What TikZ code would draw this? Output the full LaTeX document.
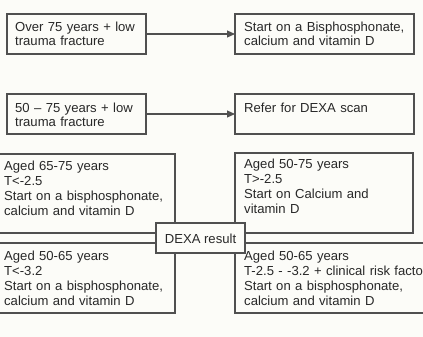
\documentclass[tikz,border=0pt]{standalone}
\usepackage{fontspec}
\setmainfont{Liberation Sans}
\usetikzlibrary{arrows.meta}
\definecolor{bgc}{RGB}{252,252,248}
\definecolor{linec}{RGB}{80,80,80}
\definecolor{textc}{RGB}{40,40,40}
\begin{document}
\begin{tikzpicture}[x=1pt,y=-1pt,
  boxst/.style={draw=linec, line width=1.2pt, fill=bgc, inner sep=0pt, outer sep=0pt, anchor=north west},
  txtup/.style={anchor=base west, inner sep=0pt, text width=260pt, align=left, text=textc, font=\fontsize{13.1}{14}\selectfont},
  txtlow/.style={anchor=base west, inner sep=0pt, text width=260pt, align=left, text=textc, font=\fontsize{13.1}{15}\selectfont},
  arrowst/.style={draw=linec, line width=1.2pt, -{Triangle[length=8pt,width=7pt]}}]
\useasboundingbox (0,0) rectangle (423,337);
\fill[bgc] (0,0) rectangle (423,337);
\clip (0,0) rectangle (423,337);
% top rows
\node[boxst, minimum width=139pt, minimum height=40pt] (b1) at (7,14) {};
\node[boxst, minimum width=179pt, minimum height=40pt] (b2) at (235,14) {};
\node[boxst, minimum width=139pt, minimum height=40pt] (b3) at (7,94) {};
\node[boxst, minimum width=179pt, minimum height=40pt] (b4) at (235,94) {};
\node[txtup] (t1) at (15,32) {Over 75 years + low\\trauma fracture};
\node[txtup] (t2) at (244,32) {Start on a Bisphosphonate,\\calcium and vitamin D};
\node[txtup] (t3) at (15,112) {50 – 75 years + low\\trauma fracture};
\node[txtup] (t4) at (244,112) {Refer for DEXA scan};
\draw[arrowst] (b1.east) -- (b2.west);
\draw[arrowst] (b3.east) -- (b4.west);
% lower block
\node[boxst, minimum width=180pt, minimum height=79pt] (b5) at (-5,154) {};
\node[boxst, minimum width=180pt, minimum height=70pt] (b6) at (-5,243) {};
\node[boxst, minimum width=178pt, minimum height=80pt] (b7) at (235,153) {};
\node[boxst, minimum width=205pt, minimum height=70pt] (b8) at (235,243) {};
\node[boxst, minimum width=89pt, minimum height=30pt] (dexa) at (156,223) {};
\node[txtlow] (t5) at (4,170) {Aged 65-75 years\\T<-2.5\\Start on a bisphosphonate,\\calcium and vitamin D};
\node[txtlow] (t6) at (4,260) {Aged 50-65 years\\T<-3.2\\Start on a bisphosphonate,\\calcium and vitamin D};
\node[txtlow] (t7) at (244,168) {Aged 50-75 years\\T>-2.5\\Start on Calcium and\\vitamin D};
\node[txtlow] (t8) at (244,260) {Aged 50-65 years\\T-2.5 - -3.2 + clinical risk factor\\Start on a bisphosphonate,\\calcium and vitamin D};
\node[anchor=base, inner sep=0pt, text=textc, font=\fontsize{13.1}{15}\selectfont] (dlabel) at (200.5,243) {DEXA result};
\end{tikzpicture}
\end{document}
